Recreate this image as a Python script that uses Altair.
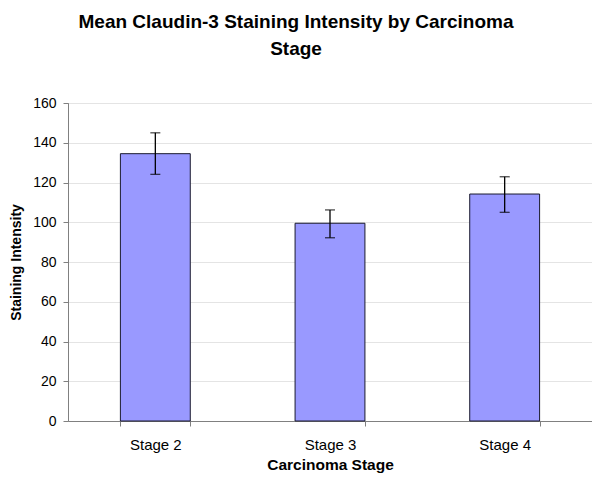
import altair as alt
import pandas as pd

stages = ["Stage 2", "Stage 3", "Stage 4"]
means = [134.5, 99.5, 114.2]
err_low = [124.1, 92.2, 105.0]
err_high = [145.0, 106.2, 122.9]

df = pd.DataFrame({"stage": stages, "mean": means, "lo": err_low, "hi": err_high})

FONT = "Liberation Sans"

x_axis = alt.Axis(labelAngle=0, tickBand="extent", grid=False,
                  domainColor="#808080", tickColor="#808080", tickSize=5,
                  labelFontSize=15, labelPadding=11, labelColor="#000",
                  titleFontSize=15.5, titleFontWeight="bold", titlePadding=5,
                  titleColor="#000")
y_axis = alt.Axis(values=list(range(0, 161, 20)), grid=True, labelOverlap=False,
                  gridColor="#e4e4e4", domainColor="#808080",
                  tickColor="#808080", tickSize=5, labelFontSize=14,
                  labelPadding=7, labelColor="#000",
                  titleFontSize=14, titleFontWeight="bold",
                  titlePadding=9, titleColor="#000")
y_scale = alt.Scale(domain=[0, 160], nice=False)
x_enc = alt.X("stage:N", sort=stages, title="Carcinoma Stage",
              scale=alt.Scale(paddingInner=0.6, paddingOuter=0.3), axis=x_axis)

def yenc(field):
    return alt.Y(field, title="Staining Intensity", scale=y_scale, axis=y_axis)

base = alt.Chart(df)
bars = base.mark_bar(color="#9999ff", stroke="#1a1a2e", strokeWidth=1).encode(
    x=x_enc, y=yenc("mean:Q"))
rules = base.mark_rule(color="#000", strokeWidth=1.3).encode(
    x=x_enc, y=yenc("lo:Q"), y2="hi:Q")
cap_lo = base.mark_tick(color="#000", thickness=1.3, size=10).encode(
    x=x_enc, y=yenc("lo:Q"))
cap_hi = base.mark_tick(color="#000", thickness=1.3, size=10).encode(
    x=x_enc, y=yenc("hi:Q"))

chart = alt.layer(bars, rules, cap_lo, cap_hi).properties(
    width=524, height=318,
    title=alt.TitleParams(
        text=["Mean Claudin-3 Staining Intensity by Carcinoma", "Stage"],
        fontSize=19, fontWeight="bold", font=FONT, color="#000",
        anchor="middle", dx=-34, offset=37, lineHeight=27),
    autosize=alt.AutoSizeParams(type="none"),
    padding={"left": 60, "top": 95, "right": 0, "bottom": 55},
).configure(font=FONT).configure_view(stroke="#808080", strokeWidth=1)

chart.save("out.html", embed_options={"renderer": "svg", "actions": False})
